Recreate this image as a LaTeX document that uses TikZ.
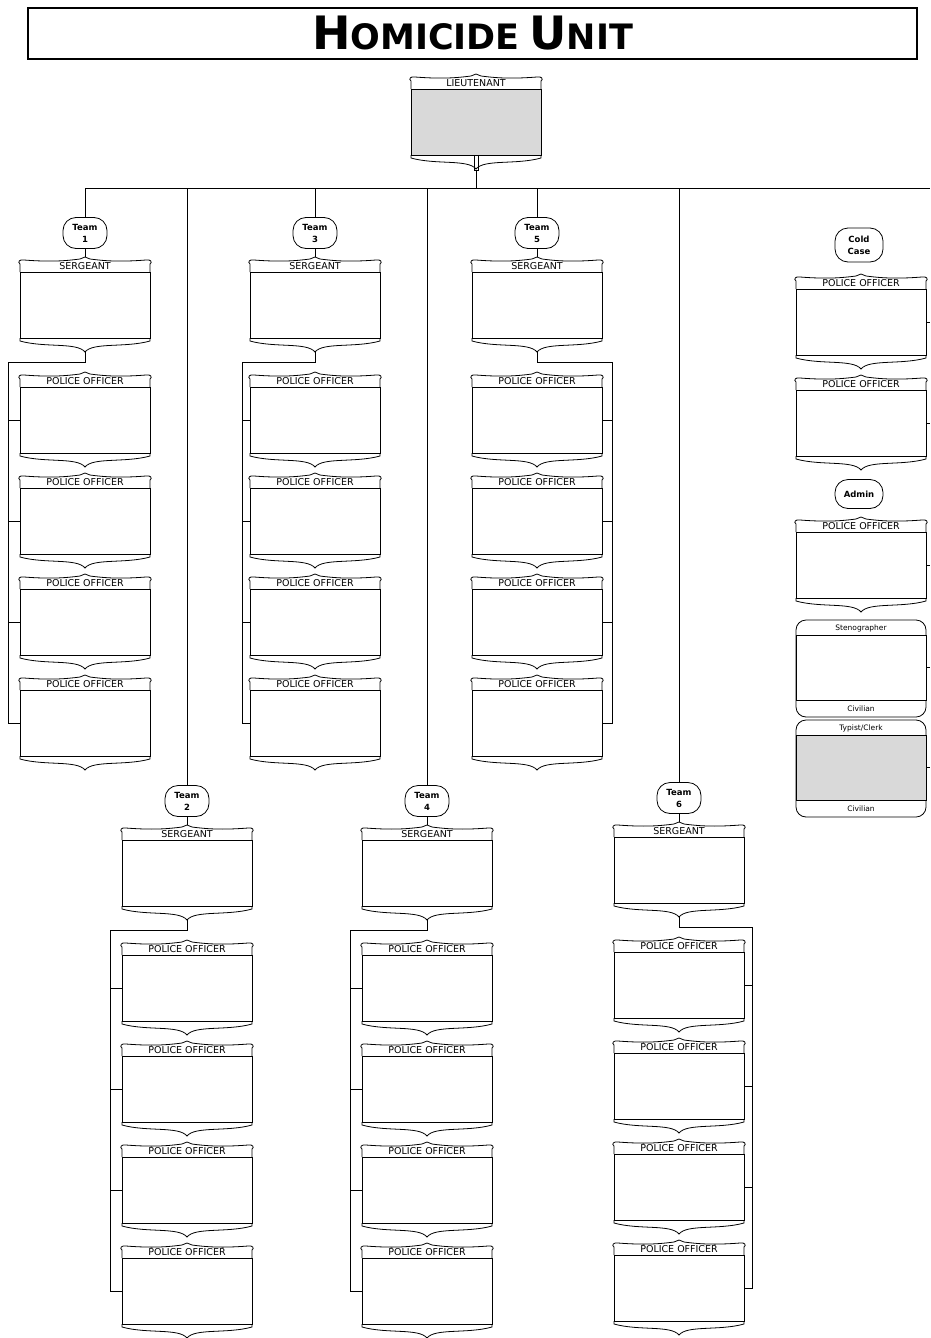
\documentclass[tikz,border=0pt]{standalone}
\usepackage{fontspec}
\setsansfont{DejaVu Sans}
\usepackage{tikz}
\definecolor{Shade}{HTML}{D9D9D9}
\tikzset{
  cardline/.style={line width=.8pt},
  cardbody/.style={draw,line width=.8pt,minimum width=130pt,minimum height=66pt,inner sep=0pt},
  cardlabel/.style={font=\sffamily\fontsize{9.5}{10}\selectfont,inner sep=0pt},
  civlabel/.style={font=\sffamily\fontsize{7.5}{8}\selectfont,inner sep=0pt},
  teambox/.style={draw,line width=.8pt,rounded corners=13pt,minimum width=44pt,minimum height=31pt,
    inner sep=1pt,align=center,font=\sffamily\bfseries\fontsize{8.5}{12}\selectfont},
  wire/.style={line width=.7pt}
}
% badge card: [fill]{name}{centre x}{top y}{header}
\newcommand{\badge}[5][white]{%
  \begin{scope}[shift={({#3},{#4})}]
    \node[cardbody,fill=#1] (#2) at (0,47) {};
    \node[cardlabel] (#2-l) at (0,8) {#5};
    \draw[cardline] (-65,14) -- (-65,6) .. controls (-68,4) and (-65,1) .. (-61,2)
      .. controls (-35,4) and (-20,3) .. (-5,1) -- (0,-1) -- (5,1)
      .. controls (20,3) and (35,4) .. (61,2) .. controls (65,1) and (68,4) .. (65,6) -- (65,14);
    \draw[cardline] (-65,80) -- (-65,83) .. controls (-40,90) and (-8,84) .. (0,94)
      .. controls (8,84) and (40,90) .. (65,83) -- (65,80);
    \coordinate (#2-top) at (0,-1);
    \coordinate (#2-tip) at (0,94);
  \end{scope}}
% civilian card: [fill]{name}{centre x}{top y}{header}{footer}
\newcommand{\civcard}[6][white]{%
  \begin{scope}[shift={({#3},{#4})}]
    \draw[cardline,rounded corners=10pt] (-65,0) rectangle (65,97);
    \node[cardbody,fill=#1,minimum height=65pt] (#2) at (0,47.5) {};
    \node[civlabel] (#2-h) at (0,8) {#5};
    \node[civlabel] (#2-f) at (0,89) {#6};
  \end{scope}}

\begin{document}
\begin{tikzpicture}[x=1pt,y=-1pt]
  \useasboundingbox (0,0) rectangle (930,1338);
  % title
  \node[draw,line width=1.2pt,minimum width=889pt,minimum height=51pt,inner sep=0pt] (title) at (472.5,33.5)
    {\sffamily\bfseries{\fontsize{46}{46}\selectfont H}{\fontsize{35}{35}\selectfont OMICIDE}\hspace{6pt}
     {\fontsize{46}{46}\selectfont U}{\fontsize{35}{35}\selectfont NIT}};
  % lieutenant
  \badge[Shade]{lt}{476}{75}{LIEUTENANT}
  \node[draw,line width=.7pt,minimum width=4pt,minimum height=15pt,inner sep=0pt,anchor=north] (lt-stem) at (lt.south) {};
  \coordinate (bus) at (85,188);
  \coordinate (busend) at (930,188);
  \draw[wire] (bus) -- (busend);
  \draw[wire] (lt-stem.south) -- (lt-stem.south |- bus);
  % teams
  \foreach \t/\x/\y/\k/\s in {1/85/258/8/west,3/315/258/242/west,5/537/258/612/east,
      2/187/826/110/west,4/427/826/350/west,6/679/823/752/east}{
    \node[teambox] (team\t) at (\x,\y-25) {Team\\\t};
    \draw[wire] (team\t.north) -- (team\t.north |- bus);
    \badge{s\t}{\x}{\y}{SERGEANT}
    \draw[wire] (team\t.south) -- (s\t-top);
    \foreach \n in {1,...,4}{
      \pgfmathsetmacro\py{\y+115+(\n-1)*101}
      \badge{p\t\n}{\x}{\py}{POLICE OFFICER}
    }
    \coordinate (k\t) at (\k,0);
    \draw[wire] (s\t-tip) -- ++(0,10) -| (p\t4.\s -| k\t) -- (p\t4.\s);
    \foreach \n in {1,2,3}
      \draw[wire] (p\t\n.\s) -- (p\t\n.\s -| k\t);
  }
  % cold case and admin
  \node[teambox,minimum width=48pt,minimum height=34pt] (cold) at (859,245) {Cold\\Case};
  \badge{cc1}{861}{275}{POLICE OFFICER}
  \badge{cc2}{861}{376}{POLICE OFFICER}
  \node[teambox,minimum width=48pt,minimum height=29pt] (admin) at (859,494) {Admin};
  \badge{ad1}{861}{518}{POLICE OFFICER}
  \civcard{ad2}{861}{620}{Stenographer}{Civilian}
  \civcard[Shade]{ad3}{861}{720}{Typist/Clerk}{Civilian}
  \coordinate (rail) at (930,0);
  \foreach \c in {cc1,cc2,ad1,ad2,ad3}
    \draw[wire] (\c.east) -- (\c.east -| rail);
\end{tikzpicture}
\end{document}
